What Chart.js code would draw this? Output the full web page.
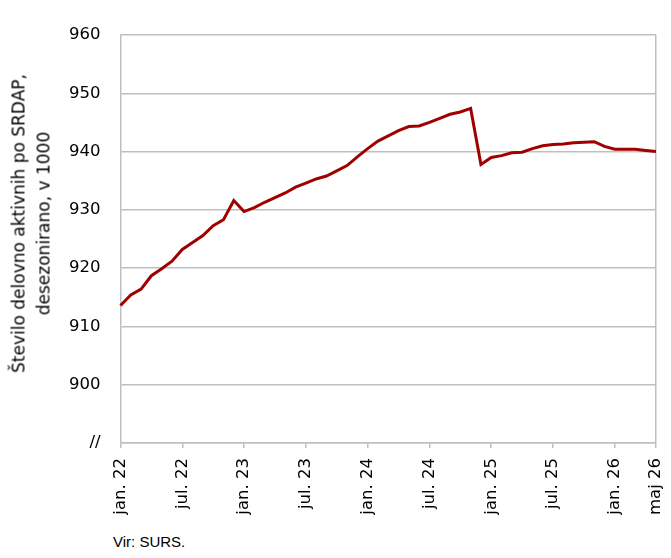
<!DOCTYPE html>
<html>
<head>
<meta charset="utf-8">
<script src="https://cdn.jsdelivr.net/npm/chart.js@4.4.1/dist/chart.umd.min.js"></script>
<style>
  html, body { margin: 0; padding: 0; background: #fff; }
  #wrap { position: relative; width: 671px; height: 558px; overflow: hidden; }
  #box { position: absolute; left: 0; top: 0; width: 671px; height: 528px; }
  #ytitle {
    position: absolute; left: -149px; top: 199px; width: 360px; height: 49px;
    transform: rotate(-90deg); transform-origin: center center;
    text-align: center; white-space: nowrap;
    font: 17px/24.5px "DejaVu Sans", sans-serif; color: #000;
  }
  #source { position: absolute; left: 113px; top: 533px; font: 15px "Liberation Sans", Arial, sans-serif; color: #000; }
</style>
</head>
<body>
<div id="wrap">
  <div id="box"><canvas id="chart"></canvas></div>
  <div id="ytitle">Število delovno aktivnih po SRDAP,<br>desezonirano, v 1000</div>
  <div id="source">Vir: SURS.</div>
</div>
<script>
// Slovenian month abbreviations and years of the series (jan. 22 - maj 26)
const months = ['jan.', 'feb.', 'mar.', 'apr.', 'maj', 'jun.', 'jul.', 'avg.', 'sep.', 'okt.', 'nov.', 'dec.'];
const years = ['22', '23', '24', '25', '26'];

const categories = [];
years.forEach(y => months.forEach(m => categories.push(m + ' ' + y)));
categories.length = 53;

// Persons in employment (SRDAP), seasonally adjusted, thousands
const employed = [
    913.6, 915.4, 916.4, 918.7, 919.9, 921.2, 923.2, 924.4, 925.6, 927.3, 928.3, 931.6,
    929.7, 930.4, 931.3, 932.1, 932.9, 933.9, 934.6, 935.3, 935.8, 936.7, 937.6, 939.1,
    940.5, 941.8, 942.7, 943.6, 944.3, 944.4, 945.0, 945.7, 946.4, 946.8, 947.4, 937.8,
    939.0, 939.3, 939.8, 939.9, 940.5, 941.0, 941.2, 941.3, 941.5, 941.6, 941.7, 940.9,
    940.4, 940.4, 940.4, 940.2, 940.0
];

const yMin = 890;
const yMax = 960;
const yStep = 10;

const gridColor = '#bfbfbf';
const fontFamily = '"DejaVu Sans", sans-serif';
const lastIndex = categories.length - 1;

function showTick(i) {
    return i % 6 === 0 || i === lastIndex;
}

const ctx = document.getElementById('chart').getContext('2d');
new Chart(ctx, {
    type: 'line',
    data: {
        labels: categories,
        datasets: [{
            data: employed,
            borderColor: '#a00000',
            borderWidth: 3,
            pointRadius: 0,
            tension: 0,
            fill: false
        }]
    },
    options: {
        responsive: true,
        maintainAspectRatio: false,
        animation: false,
        layout: { padding: { top: 35, right: 15, left: 49, bottom: 3 } },
        plugins: {
            legend: { display: false },
            tooltip: { enabled: false }
        },
        scales: {
            x: {
                offset: false,
                border: { color: gridColor, width: 1.5 },
                grid: {
                    drawOnChartArea: true,
                    color: c => c.index === lastIndex ? gridColor : 'transparent',
                    tickColor: c => showTick(c.index) ? gridColor : 'transparent',
                    tickLength: 5,
                    lineWidth: 1.5
                },
                ticks: {
                    autoSkip: false,
                    minRotation: 90,
                    maxRotation: 90,
                    padding: 10,
                    color: '#000',
                    font: { family: fontFamily, size: 16.5 },
                    callback: function(value, i) {
                        return showTick(i) ? categories[i] : '';
                    }
                },
                // the rotated end label fits in the layout padding, no extra room needed
                afterFit: function(scale) {
                    scale.paddingLeft = 0;
                    scale.paddingRight = 0;
                }
            },
            y: {
                min: yMin,
                max: yMax,
                border: { color: gridColor, width: 1.5 },
                grid: { color: gridColor, lineWidth: 1.5, tickLength: 0 },
                ticks: {
                    stepSize: yStep,
                    padding: 20,
                    color: '#000',
                    font: { family: fontFamily, size: 16.5 },
                    callback: v => v === yMin ? '//' : v
                }
            }
        }
    }
});
</script>
</body>
</html>
